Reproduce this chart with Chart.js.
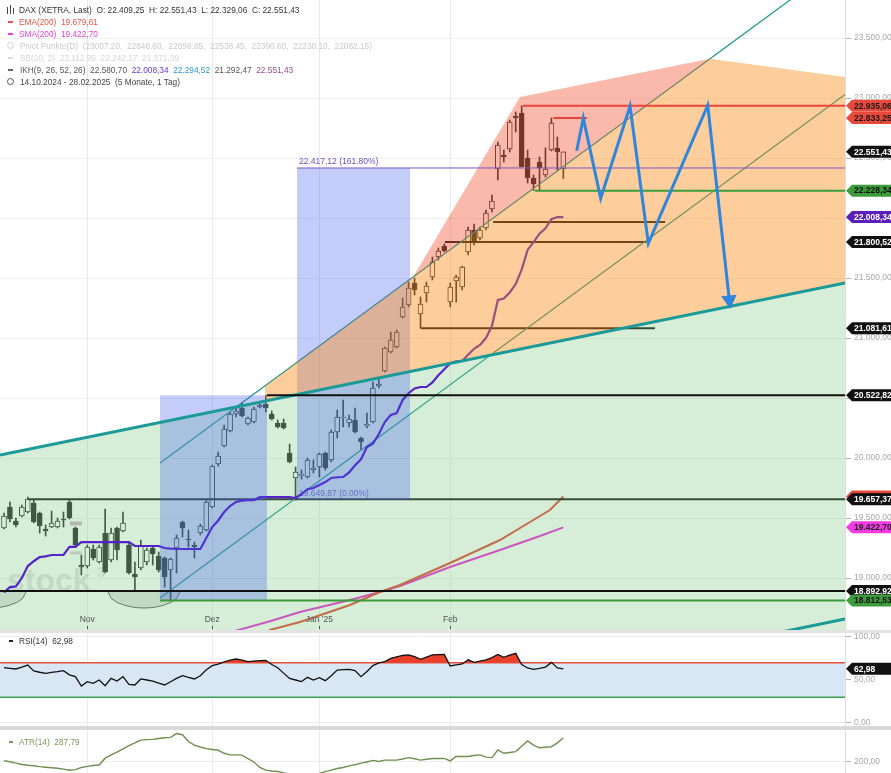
<!DOCTYPE html>
<html lang="de"><head><meta charset="utf-8"><title>DAX (XETRA)</title>
<script src="https://cdn.jsdelivr.net/npm/chart.js@4.4.1/dist/chart.umd.min.js"></script>
<style>
html,body{margin:0;padding:0;background:#fff;}
body{width:891px;height:773px;overflow:hidden;position:relative;font-family:"Liberation Sans",Arial,sans-serif;}
canvas{position:absolute;left:0;}
#c1{top:0}
#c2{top:633px}
#c3{top:730px}
.sep{position:absolute;left:0;width:891px;}
.lg{position:absolute;font-size:8.3px;line-height:11px;white-space:pre;color:#333;}
.mk{position:absolute;left:8px;width:5px;height:2px;}
</style></head><body>
<canvas id="c1" width="891" height="630"></canvas>
<div class="sep" style="top:630px;height:3px;background:#e3e3e3"></div>
<canvas id="c2" width="891" height="93"></canvas>
<div class="sep" style="top:726px;height:4px;background:#d9d9d9"></div>
<canvas id="c3" width="891" height="43"></canvas>

<div style="position:absolute;left:6px;top:5px;width:9px;height:10px">
 <div style="position:absolute;left:1px;top:2px;width:1px;height:7px;background:#444"></div>
 <div style="position:absolute;left:4px;top:0px;width:1px;height:9px;background:#444"></div>
 <div style="position:absolute;left:7px;top:3px;width:1px;height:6px;background:#444"></div>
</div>
<div class="lg" style="top:4.5px;left:19px">DAX (XETRA, Last)  O: 22.409,25  H: 22.551,43  L: 22.329,06  C: 22.551,43</div>
<div class="mk" style="top:21px;background:#e8544a"></div>
<div class="lg" style="top:16.5px;left:19px;color:#e8544a">EMA(200)  19.679,61</div>
<div class="mk" style="top:33px;background:#e63fd2"></div>
<div class="lg" style="top:28.5px;left:19px;color:#e63fd2">SMA(200)  19.422,70</div>
<div style="position:absolute;left:7px;top:42px;width:5px;height:5px;border:1px solid #cfcfcf;border-radius:50%"></div>
<div class="lg" style="top:40.5px;left:20px;color:#c9c9c9">Pivot Punkte(D)  (23007.20,  22846.60,  22698.85,  22538.45,  22390.60,  22230.10,  22082.15)</div>
<div class="mk" style="top:57px;background:#dddddd"></div>
<div class="lg" style="top:52.5px;left:20px;color:#d6d6d6">BB(20, 2)  23.112,95  22.242,17  21.371,39</div>
<div class="mk" style="top:69px;background:#666"></div>
<div class="lg" style="top:64.5px;left:20px;color:#555">IKH(9, 26, 52, 26)  22.580,70  <span style="color:#6b3cc8">22.008,34</span>  <span style="color:#2f9ac6">22.294,52</span>  21.292,47  <span style="color:#9a4a90">22.551,43</span></div>
<div style="position:absolute;left:7px;top:78px;width:5px;height:5px;border:1px solid #555;border-radius:50%"></div>
<div class="lg" style="top:76.5px;left:20px;color:#444">14.10.2024 - 28.02.2025  (5 Monate, 1 Tag)</div>

<div class="mk" style="top:640px;left:9px;width:4px;background:#222"></div>
<div class="lg" style="top:635.5px;left:19px;color:#333">RSI(14)  62,98</div>
<div class="mk" style="top:741px;left:9px;width:4px;background:#7a9a5a"></div>
<div class="lg" style="top:736.5px;left:19px;color:#7a9a5a">ATR(14)  287,79</div>

<script>
// ---------------- data ----------------
const opens  = [19417,19592,19475,19517,19550,19625,19542,19409,19425,19425,
                19492,19634,19417,19109,19100,19242,19134,19375,19150,19417,
                19392,19275,19034,19084,19134,19250,19184,19167,19067,19250,
                19467,19325,19275,19375,19400,19592,19950,20100,20225,20367,
                20417,20284,20300,20425,20450,20367,20292,20292,20042,19834,
                19855,19842,19900,19925,20042,19984,20217,20334,20292,20317,
                20167,20268,20300,20600,20725,20884,20925,21175,21275,21459,
                21200,21375,21509,21675,21767,21300,21475,21425,21717,21900,
                21834,21917,22075,22409,22525,22575,22850,22875,22500,22334,
                22467,22359,22567,22584,22409.25];
const highs  = [19542,19634,19500,19609,19675,19650,19550,19442,19559,19500,
                19550,19650,19425,19192,19275,19275,19275,19575,19417,19425,
                19550,19292,19134,19317,19250,19259,19217,19175,19167,19359,
                19475,19400,19300,19450,19650,19942,20050,20275,20384,20417,
                20459,20342,20425,20459,20523,20392,20317,20325,20117,19925,
                19900,20000,19984,20042,20050,20234,20400,20484,20359,20417,
                20175,20375,20634,20667,20925,21050,21067,21334,21467,21500,
                21342,21467,21675,21750,21784,21459,21525,21600,21925,21950,
                21925,22067,22192,22634,22567,22817,22884,22935.06,22567,22359,
                22509,22584,22833.25,22675,22551.43];
const lows   = [19409,19467,19425,19509,19542,19459,19375,19350,19420,19417,
                19425,19492,19259,19025,19084,19150,19125,19042,19134,19150,
                19384,19035,18900,19067,19109,19109,19050,18925,18812.53,19042,
                19342,19259,19167,19359,19392,19584,19934,20092,20217,20342,
                20342,20275,20292,20417,20384,20317,20250,20242,19959,19650,
                19825,19834,19875,19842,19900,19967,20167,20259,20259,20209,
                20067,20250,20292,20584,20717,20875,20917,21167,21259,21359,
                21081.61,21300,21484,21650,21717,21259,21300,21400,21692,21775,
                21817,21900,22050,22317,22467,22550,22717,22425,22292,22228.34,
                22234,22342,22559,22400,22329.06];
const closes = [19517,19492,19442,19592,19657.37,19467,19434,19392,19459,19475,
                19484,19500,19275,19092,19259,19167,19259,19050,19375,19234,
                19459,19042,19009,19275,19234,19200,19067,19009,19159,19334,
                19417,19317,19259,19434,19634,19934,20017,20242,20367,20392,
                20350,20334,20409,20442,20417,20325,20259,20250,19967,19884,
                19865,19984,19917,20034,19917,20217,20342,20342,20325,20217,
                20134,20280,20584,20617,20917,20984,21050,21259,21417,21400,
                21284,21434,21634,21725,21725,21425,21509,21592,21900,21792,
                21900,22042,22142,22609,22509,22800,22834,22425,22334,22284,
                22417,22409,22792,22550,22551.43];
// Ichimoku Kijun (IKH) per candle
const kijun  = [18880,18925,18930,19000,19100,19140,19175,19180,19192,19192,
                19192,19259,19259,19300,19300,19300,19300,19300,19300,19300,
                19300,19300,19267,19267,19267,19267,19267,19250,19245,19242,
                19242,19242,19242,19242,19334,19425,19480,19550,19600,19634,
                19645,19650,19650,19675,19675,19675,19675,19675,19675,19667,
                19700,19740,19750,19775,19800,19834,19840,19842,19880,19940,
                19990,20092,20120,20200,20300,20359,20375,20484,20540,20580,
                20592,20592,20630,20690,20740,20790,20805,20809,20860,20910,
                20942,21000,21100,21317,21330,21380,21450,21570,21734,21800,
                21870,21915,21990,22008.34,22008.34];
const rsi    = [64.3,63.5,62.8,65,67.4,60.5,59,57.8,58.8,59.7,
                60.8,56,53.9,43,48.1,46.1,50,43.4,51.9,48.8,
                53.9,45,44.2,51.2,50,48.8,46.5,44.2,48,51.9,
                55,53,51.2,55,62,66.7,68.5,71,73,74.4,
                73,71.3,72,72.5,72.9,68,64.3,58,51.9,50,
                48.1,53.1,50,52.7,49.2,55,61.6,62,62.4,61,
                53.9,60,66.7,70,71.3,75.2,77,78.5,79.1,77.1,
                74,76.5,79.1,79.5,79.8,66.3,67.5,68.6,73.5,70.5,
                72,73.3,76,79.8,76.4,79,81,68,64,62.4,
                63.5,65,70.5,64,62.98];
const atr    = [205,201,196,191,188,186,183,181,179,177,
                174,170,172,180,184,187,189,214,226,236,
                248,260,270,280,282,283,286,289,290,304,
                300,275,262,255,249,246,243,232,226,226,
                225,212,200,180,170,167,165,160,156,152,
                150,152,155,158,165,170,176,180,186,190,
                196,200,206,202,207,207,207,211,216,212,
                207,210,213,213,213,204,220,220,220,224,
                226,218,216,244,232,235,238,258,277,262,
                252,254,256,270,287.79];
// moving averages (sparse readings: candle index / value)
const emaIdx = [44,45.7,50.75,59.15,64.19,67.55,75.96,84.36,89.4,92.76,95];
const emaVal = [18480,18567,18634,18775,18884,18942,19125,19317,19467,19567,19679.61];
const smaIdx = [37,45.7,50.75,59.15,64.19,67.55,75.96,84.36,91.08,95];
const smaVal = [18520,18640,18717,18817,18884,18934,19092,19234,19350,19422.70];
// time axis
const monthIdx    = [15,36,54,76];
const monthLabels = ['Nov','Dez',"Jan '25",'Feb'];
const priceTicks  = [19000,19500,20000,20500,21000,21500,22000,22500,23000,23500];
// drawn objects (candle index / price)
const trendC   = {x:[0.33,142.34], y:[20025,21458]};      // thick teal trendline
const trendD   = {x:[118,142.34],  y:[18412,18658]};      // parallel lower teal line
const chanA    = {x:[27.22,142.34], y:[19958,24154]};     // channel upper line
const chanB    = {x:[27.22,142.34], y:[18833,23029]};     // channel lower line
const orangeTop= {x:[44.87,119.66,142.34], y:[20601,23327,23175]};
const salmonTop= {x:[69.74,87.72,119.66],  y:[21509,23008,23327]};
const box1 = {x:[27.22,45.2],  lo:18812.53, hi:20522.82};
const box2 = {x:[50.24,69.24], lo:19649.87, hi:22417.12};
const zigIdx = [97.25,98.36,101.28,106.21,109.29,119.27,122.9];
const zigVal = [22561,22833,22164,22933,21789,22940,21317];
const arc1X = [-1.35,0.15,1.65,3.15,4.15,4.87];
const arc1Y = [18750,18754,18769,18796,18830,18900];
const arc2X = [18.31,19.03,20.03,21.53,23.03,24.53,26.03,27.53,29.03,30.03,30.75];
const arc2Y = [18900,18830,18796,18769,18754,18750,18754,18769,18796,18830,18900];
const pivotMarks = [19455,19209];
// horizontal levels
const levelVal   = [22935.06,22833.25,22417.12,22228.34,21967,21800.52,21081.61,20522.82,19657.37,18892.92,18812.53];
const levelFrom  = [88.2,93.3,50.24,90.24,83.2,75.1,71.08,45.2,5,0.33,27.22];
const levelTo    = [142.34,98.98,142.34,142.34,112.1,109.0,110.4,142.34,142.34,142.34,142.34];
// right-axis value tags
const tagVal = [22935.06,22833.25,22551.43,22228.34,22008.34,21800.52,21081.61,20522.82,19679.61,19657.37,19422.70,18892.92,18812.53];

// ---------------- styles ----------------
const XMIN = 0.33, XMAX = 142.34;
const FONT = '"Liberation Sans", Arial, sans-serif';
Chart.defaults.font.family = FONT;
Chart.defaults.animation = false;
const levelStyle = [
  ['#e8463a',2,80],['#e8463a',2,80],['#7a55c8',1,80],['#3a9c3a',2,80],['#101010',2,94],
  ['#101010',2,94],['#101010',2,94],['#101010',2,80],['#101010',2,94],['#101010',2,80],['#3a9c3a',2,80]];
const tagStyle = [
  ['#e8493b','#1a1a1a'],['#e8493b','#1a1a1a'],['#111','#fff'],['#3c9c3c','#111'],['#5a1fb8','#fff'],
  ['#111','#fff'],['#111','#fff'],['#111','#fff'],['#e8493b','#111'],['#111','#fff'],['#f23ce2','#222'],
  ['#111','#fff'],['#3c9c3c','#111']];

function fmt(v){
  const s = Math.abs(v).toFixed(2).split('.');
  return (v<0?'-':'') + s[0].replace(/\B(?=(\d{3})+(?!\d))/g,'.') + ',' + s[1];
}
const pts = (xs,ys)=>xs.map((x,k)=>({x, y:ys[k]}));
const idx = opens.map((_,k)=>k+1);

const ds = [];
function add(d){ ds.push(d); return ds.length-1; }
function line(data,color,width,order,extra){
  return add(Object.assign({type:'line',data,borderColor:color,borderWidth:width,pointRadius:0,fill:false,tension:0,order},extra||{}));
}

// candles
add({type:'bar',data:idx.map((x,k)=>({x,y:[lows[k],highs[k]]})),backgroundColor:'#262626',
     barThickness:1,grouped:false,order:100});
add({type:'bar',data:idx.map((x,k)=>({x,y:[Math.min(opens[k],closes[k]),Math.max(opens[k],closes[k])]})),
     backgroundColor:idx.map((x,k)=>closes[k]>=opens[k]?'#ffffff':'#1e1e1e'),
     borderColor:'#262626',borderWidth:1,borderSkipped:false,barThickness:5,grouped:false,order:99});
// pivot markers
line([{x:12.1,y:pivotMarks[0]},{x:14.1,y:pivotMarks[0]}],'#c9b0c8',4,98);
line([{x:12.1,y:pivotMarks[1]},{x:14.1,y:pivotMarks[1]}],'#d8c8da',3,98);
// cycle arcs
line(pts(arc1X,arc1Y),'#555',1,97,{fill:{value:18900},backgroundColor:'rgba(90,90,90,0.18)'});
line(pts(arc2X,arc2Y),'#555',1,97,{fill:{value:18900},backgroundColor:'rgba(90,90,90,0.18)'});
// moving averages
line(pts(emaIdx,emaVal),'#e3402c',2,96);
line(pts(smaIdx,smaVal),'#ee22d8',2,96);
// levels
levelVal.forEach((v,k)=>{
  line([{x:levelFrom[k],y:v},{x:levelTo[k],y:v}],levelStyle[k][0],levelStyle[k][1],levelStyle[k][2]);
});
// channel lines (under fills)
const iA = line(pts(chanA.x,chanA.y),'rgb(20,150,140)',1.2,93);
line(pts(chanB.x,chanB.y),'rgb(20,150,140)',1.2,93);
// fills
const iC = line(pts(trendC.x,trendC.y),'rgba(0,0,0,0)',0,90,{fill:'start',backgroundColor:'rgba(130,200,135,0.33)'});
line(idx.map((x,k)=>({x,y:kijun[k]})),'#5523c8',2.2,89.5);
line([{x:box1.x[0],y:box1.hi},{x:box1.x[1],y:box1.hi}],'rgba(0,0,0,0)',0,89,{fill:{value:box1.lo},backgroundColor:'rgba(60,90,240,0.30)'});
line([{x:box2.x[0],y:box2.hi},{x:box2.x[1],y:box2.hi}],'rgba(0,0,0,0)',0,89,{fill:{value:box2.lo},backgroundColor:'rgba(60,90,240,0.30)'});
line(pts(orangeTop.x,orangeTop.y),'rgba(0,0,0,0)',0,88,{fill:iC,backgroundColor:'rgba(250,140,25,0.43)'});
line(pts(salmonTop.x,salmonTop.y),'rgba(0,0,0,0)',0,87,{fill:iA,backgroundColor:'rgba(245,85,50,0.41)'});
// top lines
line(pts(trendC.x,trendC.y),'#1b9a97',3,80);
line(pts(trendD.x,trendD.y),'#1b9a97',3,80);
// projection zigzag
line(pts(zigIdx,zigVal),'#2f86dc',3,70,{
  pointRadius:c=>c.dataIndex===zigIdx.length-1?6:0, pointStyle:'triangle', pointRotation:174,
  pointBackgroundColor:'#2f86dc', pointBorderColor:'#2f86dc'});

function tag(ctx,y,text,bg,fg){
  const h=12, x0=846;
  ctx.fillStyle=bg; ctx.beginPath();
  ctx.moveTo(x0,y); ctx.lineTo(x0+6,y-h/2); ctx.lineTo(892,y-h/2); ctx.lineTo(892,y+h/2); ctx.lineTo(x0+6,y+h/2);
  ctx.closePath(); ctx.fill();
  ctx.fillStyle=fg; ctx.font='bold 8.5px '+FONT; ctx.textBaseline='middle'; ctx.textAlign='left';
  ctx.fillText(text,x0+8,y+0.5);
}

const xAxis = ()=>({type:'linear',min:XMIN,max:XMAX,offset:false,
  afterBuildTicks:s=>{s.ticks=monthIdx.map(v=>({value:v}));},
  ticks:{display:false},grid:{color:'#e9e9e9',drawTicks:false,offset:false},border:{display:false},
  afterFit:s=>{s.height=0;s.paddingLeft=0;s.paddingRight=0;}});
const yAxis = (min,max,ticks,grid)=>({type:'linear',position:'right',min,max,beginAtZero:false,
  afterBuildTicks:s=>{s.ticks=ticks.map(v=>({value:v}));},
  ticks:{color:'#a8a8a8',font:{size:8.5},padding:3,callback:v=>fmt(v),autoSkip:false},
  grid:{color:grid,tickColor:'#b4b4b4',tickLength:6},border:{color:'#dedede'},
  afterFit:s=>{s.width=46;s.paddingTop=0;s.paddingBottom=0;}});

const deco = {
  id:'deco',
  beforeDatasetsDraw(chart){
    const {ctx,scales:{x,y}} = chart;
    ctx.save();
    ctx.font='8.5px '+FONT; ctx.fillStyle='#6d4fc4'; ctx.textAlign='left'; ctx.textBaseline='alphabetic';
    ctx.fillText(fmt(box2.hi)+' (161.80%)', x.getPixelForValue(box2.x[0])+2, y.getPixelForValue(box2.hi)-4);
    ctx.fillText(fmt(box2.lo)+' (0.00%)',   x.getPixelForValue(box2.x[0])+2, y.getPixelForValue(box2.lo)-4);
    ctx.fillStyle='rgba(120,120,120,0.22)';
    ctx.font='bold 32px '+FONT; ctx.fillText('stock',7,591);
    ctx.font='bold 15px '+FONT; ctx.fillText('3',97,577);
    ctx.restore();
  },
  afterDatasetsDraw(chart){
    const {ctx,scales:{x}} = chart;
    ctx.save();
    ctx.font='8.5px '+FONT; ctx.fillStyle='#555'; ctx.textAlign='center'; ctx.textBaseline='middle';
    monthIdx.forEach((v,k)=>{
      const px=x.getPixelForValue(v);
      ctx.fillText(monthLabels[k],px,620);
      ctx.fillRect(Math.round(px),626,1,3);
    });
    ctx.restore();
  },
  afterDraw(chart){
    const {ctx,scales:{y}} = chart;
    ctx.save();
    tagVal.forEach((v,k)=>tag(ctx,y.getPixelForValue(v),fmt(v),tagStyle[k][0],tagStyle[k][1]));
    ctx.restore();
  }
};

new Chart(document.getElementById('c1'),{
  type:'line',
  data:{datasets:ds},
  options:{responsive:false,devicePixelRatio:1,events:[],
    layout:{padding:0,autoPadding:false},
    plugins:{legend:{display:false},tooltip:{enabled:false}},
    scales:{x:xAxis(),y:yAxis(18567,23817,priceTicks,'#efefef')}},
  plugins:[deco]
});

// ---------------- RSI ----------------
new Chart(document.getElementById('c2'),{
  type:'line',
  data:{datasets:[
    {data:idx.map((x,k)=>({x,y:rsi[k]})),borderColor:'#111',borderWidth:1.3,pointRadius:0,tension:0,order:1,
     fill:{target:{value:70},above:'rgb(232,64,42)',below:'rgba(0,0,0,0)'}},
    {data:[{x:XMIN,y:70},{x:XMAX,y:70}],borderColor:'#e8503c',borderWidth:1.5,pointRadius:0,order:5,
     fill:{value:30},backgroundColor:'#d8e7f3'},
    {data:[{x:XMIN,y:30},{x:XMAX,y:30}],borderColor:'#3ca050',borderWidth:1.5,pointRadius:0,order:4,fill:false}
  ]},
  options:{responsive:false,devicePixelRatio:1,events:[],
    layout:{padding:0,autoPadding:false},
    plugins:{legend:{display:false},tooltip:{enabled:false}},
    scales:{x:xAxis(),y:yAxis(-3.49,104.65,[0,50,100],'#ececec')}},
  plugins:[{id:'rsiTag',afterDraw(chart){
    const {ctx,scales:{y}}=chart; ctx.save();
    tag(ctx,y.getPixelForValue(rsi[rsi.length-1]),rsi[rsi.length-1].toFixed(2).replace('.',','),'#111','#fff');
    ctx.restore();}}]
});

// ---------------- ATR ----------------
new Chart(document.getElementById('c3'),{
  type:'line',
  data:{datasets:[
    {data:idx.map((x,k)=>({x,y:atr[k]})),borderColor:'#6e9050',borderWidth:1.4,pointRadius:0,tension:0,fill:false}
  ]},
  options:{responsive:false,devicePixelRatio:1,events:[],
    layout:{padding:0,autoPadding:false},
    plugins:{legend:{display:false},tooltip:{enabled:false}},
    scales:{x:xAxis(),y:yAxis(159.7,317.2,[200],'#ececec')}}
});
</script>
</body></html>
